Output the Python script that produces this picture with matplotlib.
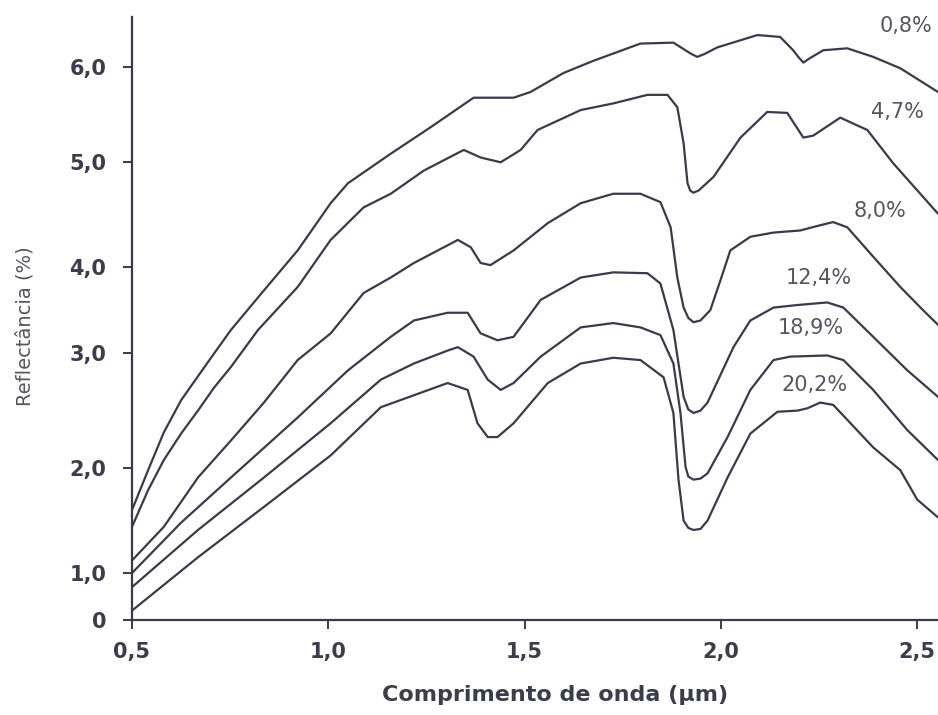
"""Soil reflectance vs wavelength for several moisture contents."""

import numpy as np
import matplotlib
matplotlib.use("Agg")
import matplotlib.pyplot as plt
from matplotlib.ticker import FixedLocator, FixedFormatter

# --- data --------------------------------------------------------------
WL_08 = [0.500, 0.541, 0.581, 0.625, 0.693, 0.752, 0.836, 0.922, 1.006, 1.050,
         1.159, 1.261, 1.370, 1.472, 1.515, 1.599, 1.676, 1.795, 1.879, 1.925,
         1.940, 1.958, 1.991, 2.093, 2.151, 2.184, 2.197, 2.210, 2.228, 2.261,
         2.322, 2.388, 2.457, 2.553]
R_08 = [1.60, 1.98, 2.31, 2.59, 2.92, 3.27, 3.73, 4.16, 4.61, 4.80,
        5.09, 5.37, 5.68, 5.68, 5.74, 5.94, 6.07, 6.25, 6.26, 6.14,
        6.11, 6.14, 6.21, 6.34, 6.32, 6.18, 6.11, 6.05, 6.10, 6.18,
        6.20, 6.11, 5.99, 5.74]

WL_47 = [0.500, 0.541, 0.581, 0.625, 0.668, 0.709, 0.752, 0.821, 0.922, 1.006,
         1.090, 1.159, 1.243, 1.345, 1.388, 1.439, 1.490, 1.533, 1.643, 1.726,
         1.813, 1.864, 1.889, 1.905, 1.915, 1.922, 1.930, 1.943, 1.981, 2.050,
         2.118, 2.169, 2.210, 2.235, 2.304, 2.373, 2.439, 2.553]
R_47 = [1.44, 1.79, 2.07, 2.30, 2.50, 2.70, 2.88, 3.27, 3.77, 4.26,
        4.57, 4.70, 4.92, 5.13, 5.05, 5.00, 5.13, 5.34, 5.55, 5.62,
        5.71, 5.71, 5.58, 5.20, 4.80, 4.73, 4.71, 4.73, 4.86, 5.26,
        5.53, 5.52, 5.26, 5.28, 5.47, 5.34, 4.99, 4.51]

WL_80 = [0.500, 0.581, 0.668, 0.752, 0.836, 0.922, 1.006, 1.090, 1.159, 1.218,
         1.330, 1.363, 1.388, 1.413, 1.472, 1.559, 1.643, 1.726, 1.795, 1.846,
         1.872, 1.889, 1.905, 1.917, 1.930, 1.948, 1.973, 1.999, 2.024, 2.075,
         2.134, 2.202, 2.253, 2.286, 2.322, 2.388, 2.457, 2.515, 2.553]
R_80 = [1.12, 1.44, 1.91, 2.24, 2.57, 2.94, 3.23, 3.70, 3.88, 4.04,
        4.26, 4.19, 4.04, 4.02, 4.16, 4.42, 4.61, 4.70, 4.70, 4.62,
        4.38, 3.88, 3.53, 3.41, 3.36, 3.38, 3.50, 3.85, 4.16, 4.29,
        4.33, 4.35, 4.40, 4.43, 4.38, 4.10, 3.77, 3.50, 3.33]

WL_124 = [0.500, 0.625, 0.752, 0.922, 1.050, 1.159, 1.218, 1.304, 1.355, 1.388,
          1.431, 1.472, 1.541, 1.643, 1.726, 1.813, 1.846, 1.879, 1.905, 1.917,
          1.930, 1.948, 1.966, 2.032, 2.075, 2.134, 2.195, 2.271, 2.312, 2.388,
          2.475, 2.553]
R_124 = [1.00, 1.48, 1.91, 2.44, 2.85, 3.19, 3.38, 3.47, 3.47, 3.23,
         3.15, 3.19, 3.62, 3.88, 3.94, 3.93, 3.81, 3.27, 2.62, 2.51,
         2.48, 2.50, 2.57, 3.07, 3.38, 3.53, 3.56, 3.59, 3.53, 3.19,
         2.85, 2.62]

WL_189 = [0.500, 0.668, 0.836, 1.006, 1.134, 1.218, 1.304, 1.330, 1.370, 1.406,
          1.439, 1.472, 1.541, 1.643, 1.726, 1.795, 1.846, 1.879, 1.897, 1.910,
          1.917, 1.930, 1.948, 1.966, 2.017, 2.075, 2.134, 2.177, 2.271, 2.312,
          2.388, 2.475, 2.553]
R_189 = [0.70, 1.41, 1.91, 2.39, 2.77, 2.91, 3.03, 3.07, 2.97, 2.77,
         2.68, 2.74, 2.97, 3.30, 3.35, 3.30, 3.21, 2.91, 2.48, 2.01,
         1.92, 1.89, 1.90, 1.95, 2.27, 2.68, 2.94, 2.97, 2.98, 2.94,
         2.68, 2.33, 2.07]

WL_202 = [0.500, 0.668, 0.836, 1.006, 1.134, 1.304, 1.355, 1.380, 1.406, 1.431,
          1.472, 1.559, 1.643, 1.726, 1.795, 1.854, 1.879, 1.892, 1.905, 1.917,
          1.930, 1.948, 1.966, 2.017, 2.075, 2.144, 2.195, 2.220, 2.253, 2.286,
          2.322, 2.388, 2.457, 2.500, 2.553]
R_202 = [0.20, 1.15, 1.63, 2.11, 2.53, 2.74, 2.68, 2.39, 2.27, 2.27,
         2.39, 2.74, 2.91, 2.96, 2.94, 2.79, 2.48, 1.89, 1.50, 1.43,
         1.41, 1.42, 1.50, 1.91, 2.30, 2.49, 2.50, 2.52, 2.57, 2.55,
         2.42, 2.18, 1.98, 1.70, 1.53]

SERIES = [
    ("0,8%", WL_08, R_08),
    ("4,7%", WL_47, R_47),
    ("8,0%", WL_80, R_80),
    ("12,4%", WL_124, R_124),
    ("18,9%", WL_189, R_189),
    ("20,2%", WL_202, R_202),
]

# label anchor (wavelength, reflectance) for each curve name
LABEL_POS = {
    "0,8%": (2.472, 6.44),
    "4,7%": (2.449, 5.53),
    "8,0%": (2.406, 4.54),
    "12,4%": (2.248, 3.88),
    "18,9%": (2.228, 3.29),
    "20,2%": (2.238, 2.72),
}

X_TICKS = [0.5, 1.0, 1.5, 2.0, 2.5]
X_TICK_LABELS = ["0,5", "1,0", "1,5", "2,0", "2,5"]
Y_TICKS = [0, 1, 2, 3, 4, 5, 6]
Y_TICK_LABELS = ["0", "1,0", "2,0", "3,0", "4,0", "5,0", "6,0"]

# the printed y axis is not evenly spaced: value -> relative height
SCALE_VALS = np.array([-1.0, 0.0, 1.0, 2.0, 3.0, 4.0, 5.0, 6.0, 8.0])
SCALE_POS = np.array([-47.0, 0.0, 47.0, 152.0, 267.0, 353.0, 458.0, 553.0, 743.0])

LINE_COLOR = "#3a3a4a"
TEXT_COLOR = "#3c3c4a"
LABEL_COLOR = "#55555f"


def _fwd(v):
    return np.interp(v, SCALE_VALS, SCALE_POS)


def _inv(p):
    return np.interp(p, SCALE_POS, SCALE_VALS)


fig = plt.figure(figsize=(9.38, 7.15), dpi=100)
ax = fig.add_axes([132 / 938, 95 / 715, 1 - 132 / 938, 603 / 715])

ax.set_yscale("function", functions=(_fwd, _inv))

for name, wl, refl in SERIES:
    ax.plot(wl, refl, color=LINE_COLOR, linewidth=1.6,
            solid_joinstyle="round", solid_capstyle="round")
    lx, ly = LABEL_POS[name]
    ax.text(lx, ly, name, ha="center", va="center", fontsize=15,
            color=LABEL_COLOR)

ax.set_xlim(0.5, 2.553)
ax.set_ylim(0, 6.53)

ax.xaxis.set_major_locator(FixedLocator(X_TICKS))
ax.xaxis.set_major_formatter(FixedFormatter(X_TICK_LABELS))
ax.yaxis.set_major_locator(FixedLocator(Y_TICKS))
ax.yaxis.set_major_formatter(FixedFormatter(Y_TICK_LABELS))
ax.yaxis.set_minor_locator(FixedLocator([]))

ax.tick_params(axis="both", direction="out", length=6.5, width=1.4,
               color=LINE_COLOR, labelcolor=TEXT_COLOR, labelsize=15)
ax.tick_params(axis="y", pad=12)
ax.tick_params(axis="x", pad=9)
for lab in ax.get_xticklabels() + ax.get_yticklabels():
    lab.set_fontweight("bold")

for side in ("top", "right"):
    ax.spines[side].set_visible(False)
for side in ("left", "bottom"):
    ax.spines[side].set_color(LINE_COLOR)
    ax.spines[side].set_linewidth(1.6)

ax.set_xlabel("Comprimento de onda (µm)", fontsize=16, fontweight="bold",
              color=TEXT_COLOR)
ax.xaxis.set_label_coords(0.525, -0.125)
ax.xaxis.label.set_va("center")

ax.set_ylabel("Reflectância (%)", fontsize=14, color=LABEL_COLOR)
ax.yaxis.set_label_coords(-0.133, 0.488)
ax.yaxis.label.set_va("center")

fig.savefig("out.png", dpi=100)
